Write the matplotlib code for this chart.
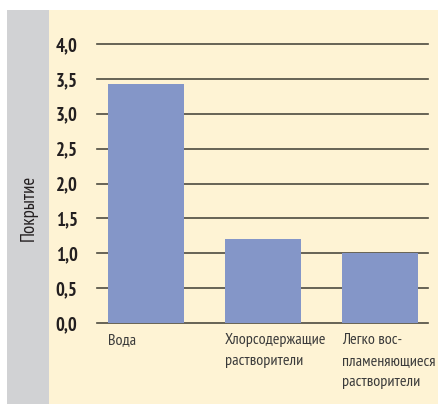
import matplotlib
matplotlib.use("Agg")
import matplotlib.pyplot as plt
import matplotlib.transforms as mtransforms

categories = ["Вода", "Хлорсодержащие\nрастворители", "Легко вос-\nпламеняющиеся\nрастворители"]
values = [3.42, 1.20, 1.00]
yticks = [0.0, 0.5, 1.0, 1.5, 2.0, 2.5, 3.0, 3.5, 4.0]
ytick_labels = ["0,0", "0,5", "1,0", "1,5", "2,0", "2,5", "3,0", "3,5", "4,0"]
ylabel = "Покрытие"

plt.rcParams['font.family'] = ["PT Sans Narrow", "Roboto Condensed", "DejaVu Sans"]

W, H = 439, 404
fig = plt.figure(figsize=(W/100, H/100), dpi=100)
fig.patch.set_facecolor("white")

# background panels
fig.patches.append(plt.Rectangle((49/W, 0), 1 - 49/W, (H-10)/H, transform=fig.transFigure,
                                 facecolor="#FEF3D4", edgecolor="none", zorder=-10))
fig.patches.append(plt.Rectangle((7/W, 0), 42/W, (H-10)/H, transform=fig.transFigure,
                                 facecolor="#D1D2D4", edgecolor="none", zorder=-10))

ax_l, ax_r, ax_t, ax_b = 97, 428, 44, 323
ax = fig.add_axes([ax_l/W, 1 - ax_b/H, (ax_r-ax_l)/W, (ax_b-ax_t)/H])
ax.set_zorder(5)
ax.set_facecolor("none")
x = list(range(len(categories)))
bw = 0.65
ax.bar(x, values, width=bw, color="#8496C8", zorder=2)
ax.set_xlim(-0.419, 2.41)
ax.set_ylim(0, 4.0)
for s in ax.spines.values():
    s.set_visible(False)
ax.set_yticks(yticks)
ax.set_yticklabels(ytick_labels, fontsize=13.5, fontweight="bold", color="#231F20")
ax.tick_params(axis="y", length=0, pad=14)
ax.set_xticks([])
for yv in yticks:
    ax.axhline(yv, color="#4D4A40", lw=1.2, zorder=1, clip_on=False)

trans = mtransforms.blended_transform_factory(ax.transData, ax.transAxes)
for i, c in enumerate(categories):
    ax.text(i - bw/2, -0.035, c, transform=trans, ha="left", va="top", fontsize=11.6,
            color="#3A3A3A", linespacing=1.65)

fig.text(29/W, 1 - 208/H, ylabel, rotation=90, ha="center", va="center", fontsize=13.5, color="#231F20")

fig.savefig("out.png", dpi=100)
